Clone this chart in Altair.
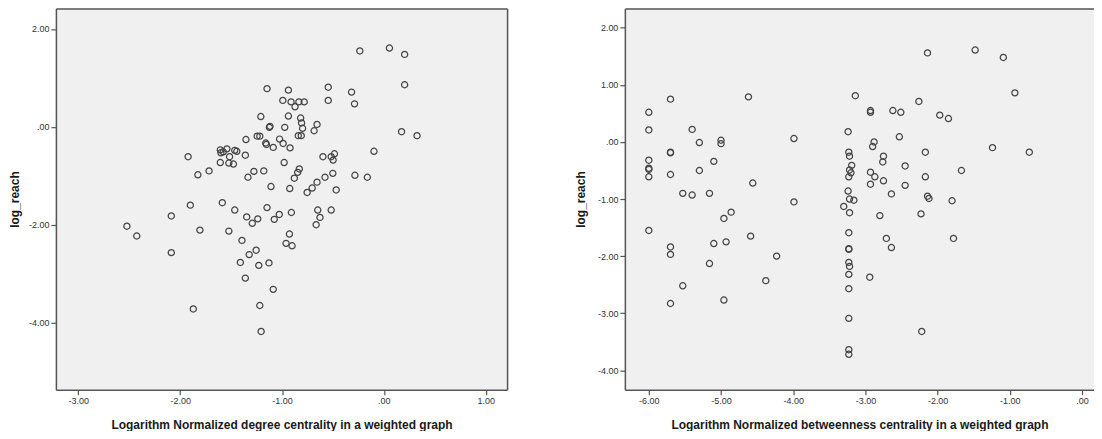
import altair as alt
import pandas as pd

# ---- Left panel: degree centrality vs log_reach ----
deg_x = [-0.236, 0.055, 0.204, 0.204, -1.147, -0.937, -0.546, -0.317, -0.546, -0.288,
         -0.992, -0.911, -0.834, -0.782, -0.872, -1.208, -0.937, -0.817, -0.808, -0.798,
         -1.118, -1.124, -0.973, -0.656, -0.685, 0.174, 0.326, -1.354, -1.244, -1.218,
         -1.160, -1.153, -1.024, -0.989, -1.086, -0.921, -0.840, -0.811, -0.097, -1.606,
         -1.600, -1.577, -1.541, -1.464, -1.444, -1.360, -1.922, -1.515, -1.606, -1.522,
         -1.477, -1.716, -1.826, -1.334, -1.276, -1.179, -0.979, -0.830, -0.846, -0.879,
         -0.598, -0.517, -0.485, -0.498, -0.501, -0.578, -0.656, -0.704, -0.753, -0.468,
         -0.284, -0.162, -1.108, -0.924, -1.586, -1.900, -2.087, -2.523, -2.426, -2.087,
         -1.806, -1.871, -1.464, -1.347, -1.292, -1.238, -1.147, -1.076, -1.027, -0.908,
         -1.522, -1.393, -1.254, -1.322, -1.409, -1.228, -1.128, -1.360, -1.086, -1.218,
         -1.205, -0.927, -0.960, -0.901, -0.665, -0.649, -0.627, -0.517]
deg_y = [1.55, 1.61, 1.48, 0.86, 0.78, 0.75, 0.81, 0.71, 0.54, 0.47,
         0.54, 0.51, 0.51, 0.51, 0.41, 0.21, 0.22, 0.18, 0.08, -0.03,
         0.01, -0.01, -0.01, 0.05, -0.08, -0.10, -0.18, -0.26, -0.19, -0.19,
         -0.33, -0.36, -0.25, -0.34, -0.42, -0.43, -0.18, -0.18, -0.50, -0.47,
         -0.53, -0.51, -0.45, -0.48, -0.50, -0.58, -0.61, -0.61, -0.73, -0.74,
         -0.76, -0.90, -0.98, -1.03, -0.91, -0.90, -0.73, -0.86, -0.93, -1.05,
         -0.61, -0.61, -0.55, -0.68, -0.95, -1.03, -1.13, -1.25, -1.34, -1.29,
         -0.99, -1.03, -1.22, -1.26, -1.55, -1.60, -1.82, -2.03, -2.23, -2.57,
         -2.11, -3.72, -1.70, -1.84, -1.97, -1.88, -1.65, -1.89, -1.79, -1.75,
         -2.13, -2.32, -2.52, -2.61, -2.77, -2.83, -2.78, -3.09, -3.32, -3.65,
         -4.18, -2.19, -2.38, -2.43, -2.00, -1.70, -1.85, -1.70]

# ---- Right panel: betweenness centrality vs log_reach ----
btw_x = [-6.00, -6.00, -6.00, -6.00, -6.00, -6.00, -6.00, -5.70, -5.70, -5.70,
         -5.70, -5.70, -5.70, -5.70, -5.53, -5.40, -5.40, -5.30, -5.30, -5.53,
         -5.16, -5.16, -5.10, -5.10, -5.00, -5.00, -4.96, -4.86, -4.93, -4.96,
         -4.62, -4.56, -4.59, -4.38, -4.23, -3.99, -3.99, -3.14, -3.24, -3.23,
         -3.22, -3.19, -3.22, -3.20, -3.23, -3.24, -3.22, -3.16, -3.30, -3.22,
         -3.23, -3.23, -3.23, -3.23, -3.22, -3.23, -3.23, -3.23, -3.23, -3.23,
         -2.93, -2.93, -2.62, -2.51, -2.88, -2.90, -2.75, -2.76, -2.93, -2.87,
         -2.75, -2.93, -2.64, -2.80, -2.71, -2.64, -2.94, -2.53, -2.45, -2.45,
         -2.26, -2.14, -2.17, -2.17, -2.14, -2.12, -2.23, -2.22, -1.97, -1.85,
         -1.67, -1.80, -1.78, -1.48, -1.09, -0.93, -1.24, -0.73]
btw_y = [0.52, 0.21, -0.32, -0.46, -0.48, -0.61, -1.55, 0.75, -0.18, -0.19,
         -0.57, -1.84, -1.97, -2.83, -0.90, -0.93, 0.22, -0.01, -0.50, -2.52,
         -0.90, -2.13, -0.34, -1.78, 0.03, -0.03, -1.34, -1.23, -1.75, -2.77,
         0.79, -0.72, -1.65, -2.43, -2.00, 0.06, -1.05, 0.81, 0.18, -0.18,
         -0.25, -0.41, -0.49, -0.54, -0.61, -0.86, -1.00, -1.02, -1.13, -1.24,
         -1.59, -1.87, -1.88, -2.11, -2.18, -2.32, -2.57, -3.09, -3.64, -3.72,
         0.55, 0.52, 0.55, 0.52, 0.00, -0.08, -0.25, -0.35, -0.53, -0.61,
         -0.68, -0.74, -0.91, -1.29, -1.69, -1.85, -2.37, 0.09, -0.42, -0.76,
         0.71, 1.56, -0.18, -0.61, -0.95, -0.99, -1.26, -3.32, 0.47, 0.41,
         -0.50, -1.03, -1.69, 1.61, 1.48, 0.86, -0.10, -0.18]

deg_ticks_x = [-3, -2, -1, 0, 1]
deg_ticks_y = [2, 0, -2, -4]
btw_ticks_x = [-6, -5, -4, -3, -2, -1, 0]
btw_ticks_y = [2, 1, 0, -1, -2, -3, -4]

x_title_left = "Logarithm Normalized degree centrality in a weighted graph"
x_title_right = "Logarithm Normalized betweenness centrality in a weighted graph"
y_title = "log_reach"

FONT = "Liberation Sans"
FRAME = "#555555"
BG = "#f0f0f0"
PT = "#444444"
LABEL_EXPR = "datum.value == 0 ? '.00' : (datum.value < 0 ? '-' : '') + format(abs(datum.value), '.2f')"

df_left = pd.DataFrame({"x": deg_x, "y": deg_y})
df_right = pd.DataFrame({"x": btw_x, "y": btw_y})


def main_axis(values, title, title_pad):
    return alt.Axis(values=values, title=title, labelExpr=LABEL_EXPR, grid=False,
                    domainColor=FRAME, domainWidth=1.5, tickColor=FRAME, tickWidth=1.2,
                    tickSize=5, labelFont=FONT, labelFontSize=9, labelColor="#333333",
                    labelPadding=2, titleFont=FONT, titleFontSize=12, titleFontWeight="bold",
                    titleColor="#1a1a1a", titlePadding=title_pad)


def frame_axis(orient):
    return alt.Axis(orient=orient, labels=False, ticks=False, title=None, grid=False,
                    domainColor=FRAME, domainWidth=1.5)


def panel(df, xdom, ydom, xticks, yticks, xtitle, w, h, ytp, right_border):
    xs = alt.Scale(domain=xdom, nice=False, zero=False)
    ys = alt.Scale(domain=ydom, nice=False, zero=False)
    pts = alt.Chart(df).mark_point(shape="circle", filled=False, size=38,
                                   strokeWidth=1.25, color=PT, opacity=1).encode(
        x=alt.X("x:Q", scale=xs, axis=main_axis(xticks, xtitle, 14)),
        y=alt.Y("y:Q", scale=ys, axis=main_axis(yticks, y_title, ytp)),
    )
    frame = alt.Chart(df).mark_point(opacity=0).encode(
        x=alt.X("x:Q", scale=xs, axis=frame_axis("top")),
        y=alt.Y("y:Q", scale=ys, axis=frame_axis("right") if right_border else None),
    )
    return alt.layer(pts, frame).resolve_axis(x="independent", y="independent").properties(
        width=w, height=h, view=alt.ViewBackground(fill=BG, stroke=None))


left = panel(df_left, [-3.22, 1.21], [-5.37, 2.42], deg_ticks_x, deg_ticks_y,
             x_title_left, 452, 382, 7, True)
right = panel(df_right, [-6.332, 0.166], [-4.34, 2.34], btw_ticks_x, btw_ticks_y,
              x_title_right, 470, 382, 10, False)

chart = alt.hconcat(left, right, spacing=67).properties(
    padding={"left": 0, "top": 0, "right": 0, "bottom": 0},
    background="white",
)

chart.save("out.html", embed_options={"renderer": "svg", "actions": False})
